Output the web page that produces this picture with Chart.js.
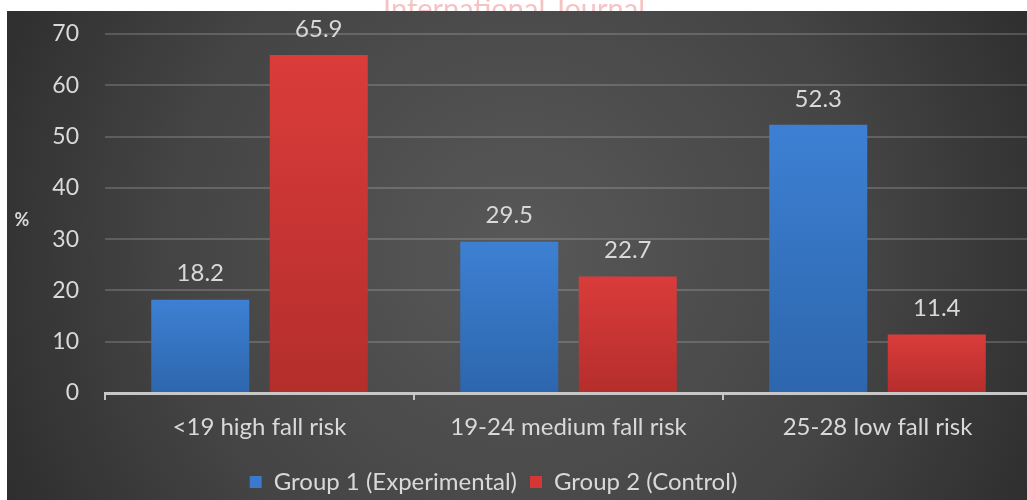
<!DOCTYPE html>
<html>
<head>
<meta charset="utf-8">
<script src="https://cdn.jsdelivr.net/npm/chart.js@4.4.1/dist/chart.umd.min.js"></script>
<style>
  html, body { margin: 0; padding: 0; background: #ffffff; overflow: hidden; }
  #wrap { width: 1040px; height: 504px; }
</style>
</head>
<body>
<div id="wrap"><canvas id="chart" width="1040" height="504"></canvas></div>
<script>
// Fall-risk categories and the share (%) of each group falling into them
const categories = ['<19 high fall risk', '19-24 medium fall risk', '25-28 low fall risk'];
const group1 = [18.2, 29.5, 52.3];
const group2 = [65.9, 22.7, 11.4];
const seriesNames = ['Group 1 (Experimental)', 'Group 2 (Control)'];
const seriesColors = ['#3a79cb', '#d53636'];
const yTicks = [0, 10, 20, 30, 40, 50, 60, 70];

const FONT = 'Lato, "Open Sans", sans-serif';
const TEXT = '#d9d9d9';

// vertical gradient spanning one bar, top colour to bottom colour
function barGradient(top, bottom) {
  return (ctx) => {
    const chart = ctx.chart;
    if (!chart.chartArea || ctx.type !== 'data') return top;
    const ys = chart.scales.y;
    const y0 = ys.getPixelForValue(ctx.parsed ? ctx.parsed.y : 0);
    const y1 = ys.getPixelForValue(0);
    const g = chart.ctx.createLinearGradient(0, y0, 0, y1);
    g.addColorStop(0, top);
    g.addColorStop(1, bottom);
    return g;
  };
}

// panel background, header watermark, axis unit and value labels
const decor = {
  id: 'decor',
  beforeDraw(chart) {
    const c = chart.ctx;
    const W = chart.width, H = chart.height;
    c.save();
    c.fillStyle = '#ffffff';
    c.fillRect(0, 0, W, H);
    c.beginPath();
    c.rect(0, 0, W, 11);
    c.clip();
    c.fillStyle = '#f4c4c4';
    c.font = '29px ' + FONT;
    c.textAlign = 'left';
    c.textBaseline = 'alphabetic';
    c.fillText('International Journal', 383, 19);
    c.restore();

    c.save();
    const g = c.createRadialGradient(520, 250, 20, 520, 250, 620);
    g.addColorStop(0, '#575757');
    g.addColorStop(0.55, '#444444');
    g.addColorStop(1, '#292929');
    c.fillStyle = g;
    c.fillRect(7, 11, W - 7, H - 11);
    c.restore();
  },
  afterDatasetsDraw(chart) {
    const c = chart.ctx;
    c.save();
    c.fillStyle = TEXT;
    c.font = '24px ' + FONT;
    c.textAlign = 'center';
    c.textBaseline = 'middle';
    chart.data.datasets.forEach((ds, i) => {
      chart.getDatasetMeta(i).data.forEach((bar, j) => {
        c.fillText(ds.data[j].toFixed(1), bar.x, bar.y - 26);
      });
    });
    c.font = 'bold 18px ' + FONT;
    c.fillText('%', 22, 220);
    c.restore();
  }
};

new Chart(document.getElementById('chart'), {
  type: 'bar',
  data: {
    labels: categories,
    datasets: [
      { label: seriesNames[0], data: group1, backgroundColor: barGradient('#3d80d3', '#2d66ad') },
      { label: seriesNames[1], data: group2, backgroundColor: barGradient('#da3c3a', '#b42e2c') }
    ]
  },
  options: {
    responsive: false,
    animation: false,
    devicePixelRatio: 1,
    layout: { padding: { left: -45, right: 8, top: 34, bottom: 0 } },
    categoryPercentage: 0.767,
    barPercentage: 0.827,
    scales: {
      x: {
        grid: { display: true, drawOnChartArea: false, color: '#c4c4c4', lineWidth: 2, tickLength: 7, offset: true },
        border: { display: true, color: '#c8c8c8', width: 3 },
        ticks: { color: TEXT, font: { family: FONT, size: 24 }, padding: 13, maxRotation: 0 },
        afterFit(scale) { scale.height = 64; scale.paddingLeft = 0; scale.paddingRight = 0; }
      },
      y: {
        min: 0, max: 70,
        afterBuildTicks(scale) { scale.ticks = yTicks.map(v => ({ value: v })); },
        grid: { color: 'rgba(225,225,225,0.2)', lineWidth: 2, drawTicks: false },
        border: { display: false },
        ticks: { color: TEXT, font: { family: FONT, size: 23 }, padding: 26 },
        afterFit(scale) { scale.width = 150; scale.paddingTop = 0; scale.paddingBottom = 0; }
      }
    },
    plugins: {
      tooltip: { enabled: false },
      legend: {
        position: 'bottom',
        labels: {
          color: TEXT,
          font: { family: FONT, size: 24 },
          boxWidth: 12, boxHeight: 12,
          padding: 13,
          generateLabels(chart) {
            return Chart.defaults.plugins.legend.labels.generateLabels(chart).map((it, i) => {
              it.fillStyle = seriesColors[i];
              it.strokeStyle = 'rgba(0,0,0,0)';
              it.lineWidth = 0;
              return it;
            });
          }
        }
      }
    }
  },
  plugins: [decor]
});
</script>
</body>
</html>
